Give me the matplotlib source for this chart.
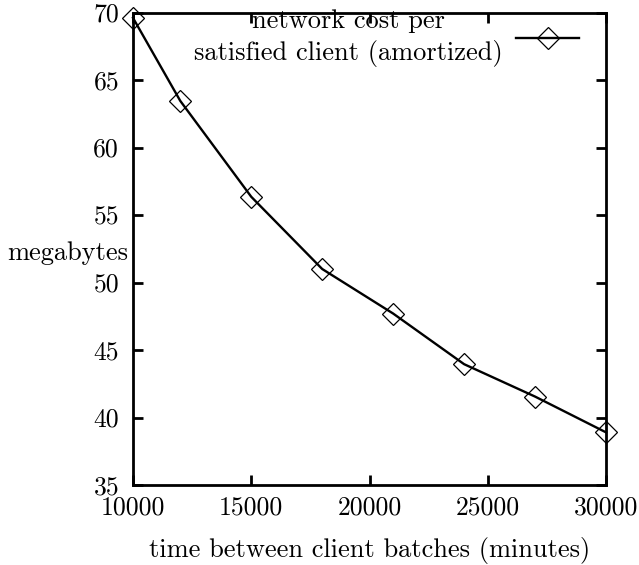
import matplotlib
matplotlib.use("Agg")
import matplotlib.pyplot as plt

# datos
batch_time = [10000, 12000, 15000, 18000, 21000, 24000, 27000, 30000]
cost_mb = [69.6, 63.45, 56.35, 51.0, 47.7, 43.95, 41.55, 38.9]
serie_label = "network cost per\nsatisfied client (amortized)"
xticks = [10000, 15000, 20000, 25000, 30000]
yticks = [35, 40, 45, 50, 55, 60, 65, 70]

plt.rcParams['font.family'] = 'cmr10'
plt.rcParams['axes.formatter.use_mathtext'] = True
plt.rcParams['font.size'] = 19

fig = plt.figure(figsize=(6.39, 5.65), dpi=100)
ax = fig.add_axes([133/639, 1 - 485/565, (606-133)/639, (485-12.5)/565])

ax.plot(batch_time, cost_mb, color='black', linewidth=1.7, marker='D',
        markersize=11, markerfacecolor='none', markeredgecolor='black',
        markeredgewidth=0.9, label=serie_label, clip_on=False)

ax.set_xlim(10000, 30000)
ax.set_ylim(35, 70)
ax.set_xticks(xticks)
ax.set_yticks(yticks)
ax.set_xticklabels([str(t) for t in xticks])
ax.set_yticklabels([str(t) for t in yticks])
ax.tick_params(direction='in', length=7, width=2, top=True, right=True,
               labelsize=18.5)
ax.tick_params(axis='x', pad=8)
ax.tick_params(axis='y', pad=10)
for s in ax.spines.values():
    s.set_linewidth(2)

ax.set_xlabel("time between client batches (minutes)", labelpad=12)
ax.set_ylabel("megabytes", rotation=0, ha='right', va='center', labelpad=0)
ax.yaxis.set_label_coords(-0.01, 0.49)

leg = ax.legend(loc='upper right', bbox_to_anchor=(0.966, 1.03),
                frameon=False, markerfirst=False, handlelength=2.4,
                handletextpad=0.5, borderaxespad=0, fontsize=19)
for t in leg.get_texts():
    t.set_multialignment('center')
    t.set_linespacing(1.35)

fig.savefig("out.png", dpi=100)
